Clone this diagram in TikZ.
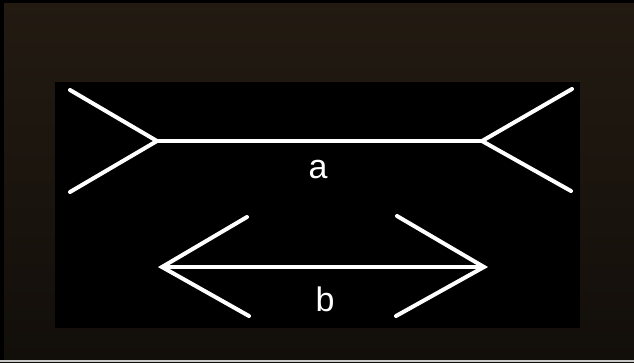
\documentclass[tikz,border=0pt]{standalone}
\usepackage{fontspec}
\setmainfont{Liberation Sans}
\definecolor{bgtop}{HTML}{231B12}
\definecolor{bgbot}{HTML}{120E0A}
\definecolor{edgegray}{HTML}{C8C8C8}
\begin{document}
\begin{tikzpicture}[x=1pt,y=-1pt,
  stroke/.style={white,line width=4pt,line cap=round,line join=miter},
  lbl/.style={text=white,font=\fontsize{34}{34}\selectfont,inner sep=0pt}]
\useasboundingbox (0,0) rectangle (634,362);
% photographic background
\shade[top color=bgtop,bottom color=bgbot] (0,0) rectangle (634,362);
\fill[black] (0,0) rectangle (634,3);
\fill[black] (0,0) rectangle (4,362);
\fill[edgegray] (0,359.5) rectangle (634,362);
% black panel
\fill[black] (55,82) rectangle (580,328);
% figure a
\coordinate (aL) at (157,141);
\coordinate (aR) at (482,141);
\coordinate (aLu) at (70,90);
\coordinate (aLd) at (70,192);
\coordinate (aRu) at (572,89);
\coordinate (aRd) at (571,191);
\draw[stroke] (aLu) -- (aL) -- (aLd);
\draw[stroke] (aRu) -- (aR) -- (aRd);
\draw[stroke] (aL) -- (aR);
\node[lbl] (la) at (318,170) {a};
% figure b
\coordinate (bL) at (162,267);
\coordinate (bR) at (484,267);
\coordinate (bLu) at (247,217);
\coordinate (bLd) at (249,316);
\coordinate (bRu) at (397,216);
\coordinate (bRd) at (396,316);
\draw[stroke] (bLu) -- (bL) -- (bLd);
\draw[stroke] (bRu) -- (bR) -- (bRd);
\draw[stroke] (bL) -- (bR);
\node[lbl] (lb) at (325,299) {b};
\end{tikzpicture}
\end{document}
